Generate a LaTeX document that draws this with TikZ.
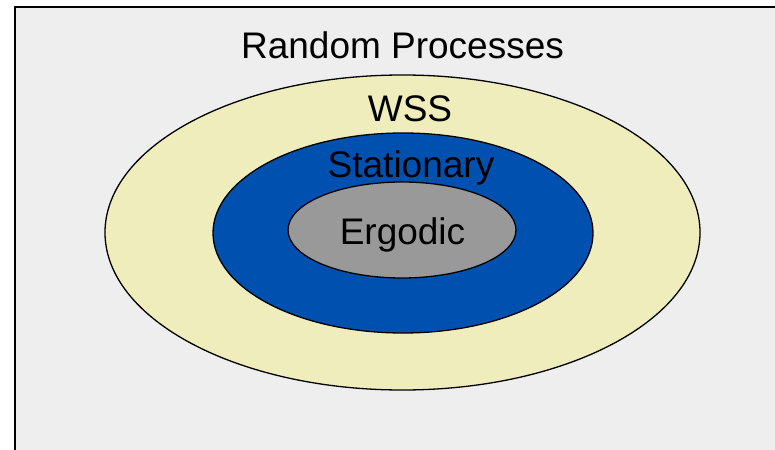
\documentclass[tikz,border=0pt]{standalone}
\usepackage{fontspec}
\setmainfont{Liberation Sans}
\definecolor{bgray}{HTML}{EEEEEE}
\definecolor{wssyellow}{RGB}{239,237,187}
\definecolor{statblue}{RGB}{0,80,176}
\definecolor{ergray}{RGB}{153,153,153}
\tikzset{
  setshape/.style={draw=black, line width=1.3pt},
  lbl/.style={anchor=base, inner sep=0pt, font=\fontsize{37}{41}\selectfont}
}
\begin{document}
\begin{tikzpicture}[x=1pt,y=-1pt]
\useasboundingbox (0,0) rectangle (775,449);
\clip (0,0) rectangle (775,449);
\draw[fill=bgray, draw=black, line width=2pt] (15,7) rectangle (800,470);
\draw[setshape, fill=wssyellow] (402.5,232.5) ellipse [x radius=297.5, y radius=157.5];
\draw[setshape, fill=statblue] (403,233) ellipse [x radius=190, y radius=100];
\draw[setshape, fill=ergray] (402,230) ellipse [x radius=114, y radius=48];
\node[lbl] (rp) at (402.5,59) {Random Processes};
\node[lbl] (wss) at (410,122) {WSS};
\node[lbl] (st) at (411,177) {Stationary};
\node[lbl] (er) at (402.5,244) {Ergodic};
\end{tikzpicture}
\end{document}
